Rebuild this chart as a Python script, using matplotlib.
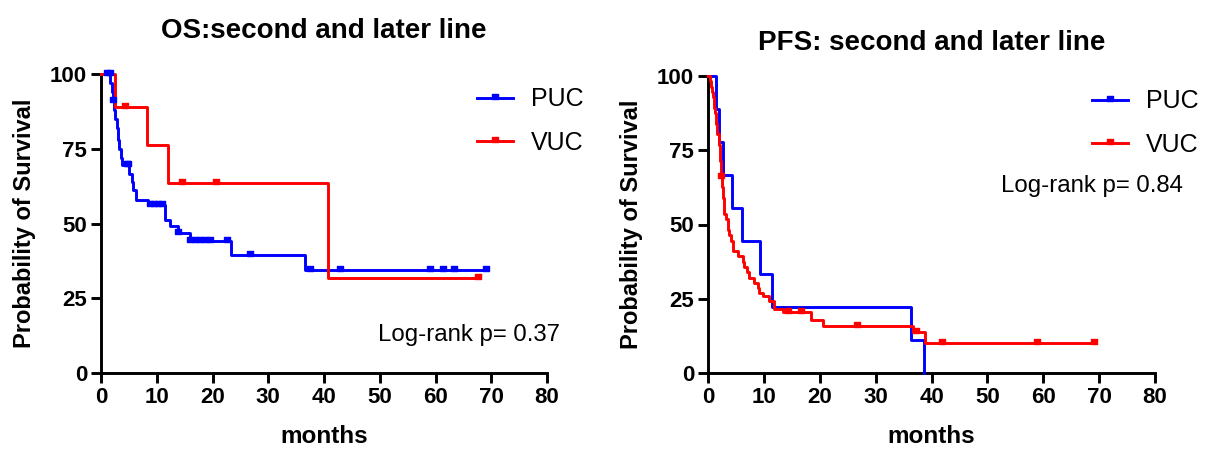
import numpy as np
import matplotlib
matplotlib.use("Agg")
import matplotlib.pyplot as plt
from matplotlib.path import Path
from matplotlib.lines import Line2D

plt.rcParams['font.family'] = ['Liberation Sans', 'DejaVu Sans']

# ---------------- data ----------------
# OS: second and later line
os_puc_t = [0, 1.7, 1.9, 2.1, 2.3, 2.6, 2.8, 3.0, 3.2, 3.5, 3.7, 5.0, 5.5, 5.8, 6.2, 8.4, 11.5, 12.4, 13.9, 15.9, 23.4, 36.6]
os_puc_s = [100, 97, 94, 91, 88, 85, 82, 78, 75, 72, 69.6, 66.5, 64, 61.3, 57.9, 56.3, 51.2, 49.0, 46.8, 44.0, 39.5, 34.6]
os_puc_end = 69.1
os_puc_cens = [1.0, 1.6, 2.2, 4.6, 4.9, 8.8, 9.5, 10.2, 10.9, 13.9, 15.9, 16.9, 17.8, 18.7, 19.6, 22.6, 26.7, 37.5, 42.8, 59.0, 61.3, 63.4, 69.1]

os_vuc_t = [0, 2.6, 8.2, 12.1, 40.7]
os_vuc_s = [100, 88.9, 76.2, 63.5, 31.8]
os_vuc_end = 67.6
os_vuc_cens = [4.3, 14.5, 20.6, 67.6]

# PFS: second and later line
pfs_puc_t = [0, 1.4, 2.0, 2.6, 4.3, 6.0, 9.3, 11.4, 36.3, 38.7]
pfs_puc_s = [100, 88.9, 77.8, 66.7, 55.6, 44.4, 33.3, 22.2, 11.1, 0]
pfs_puc_end = 38.7
pfs_puc_cens = []

pfs_vuc_t = [0, 0.3, 0.5, 0.7, 0.9, 1.1, 1.3, 1.5, 1.7, 1.9, 2.1, 2.3, 2.5, 2.7, 2.9, 3.2, 3.5,
             3.8, 4.1, 4.4, 5.3, 6.2, 6.5, 6.9, 7.4, 8.3, 8.9, 9.2, 9.8, 11.0, 11.9, 13.5,
             18.5, 20.6, 36.6, 38.8]
pfs_vuc_s = [100, 98.2, 96.4, 94.6, 92.9, 89.3, 87.5, 83.9, 80.4, 76.8, 71.4, 66.1, 62.5, 58.9,
             53.6, 51.8, 48.2, 46.4, 44.6, 41.1, 39.3, 37.5, 35.7, 33.9, 32.1, 30.4, 28.6, 26.8,
             25.9, 24.1, 21.4, 20.5, 17.7, 15.9, 13.8, 10.2]
pfs_vuc_end = 69.0
pfs_vuc_cens = [2.3, 14.3, 16.7, 26.6, 37.3, 41.8, 58.9, 69.0]

groups = ["PUC", "VUC"]
colors = {"PUC": "#0000FF", "VUC": "#FF0000"}
titles = ["OS:second and later line", "PFS: second and later line"]
pvals = ["Log-rank p= 0.37", "Log-rank p= 0.84"]
xticks = [0, 10, 20, 30, 40, 50, 60, 70, 80]
yticks = [0, 25, 50, 75, 100]

# censor marker: small box sitting on the line
cens_marker = Path([(-1, -0.4), (1, -0.4), (1, 1.4), (-1, 1.4), (-1, -0.4)],
                   [Path.MOVETO, Path.LINETO, Path.LINETO, Path.LINETO, Path.CLOSEPOLY])

LW = 2.1


def km_draw(ax, t, s, end, cens, color):
    tt = list(t) + [end]
    ss = list(s) + [s[-1]]
    ax.step(tt, ss, where='post', color=color, lw=LW, clip_on=False, zorder=3)
    if cens:
        idx = np.searchsorted(np.array(t), np.array(cens), side='right') - 1
        cy = np.array(s)[idx]
        ax.plot(cens, cy, linestyle='none', marker=cens_marker, markersize=6,
                color=color, clip_on=False, zorder=4)


fig = plt.figure(figsize=(12.05, 4.53), dpi=100)
ax1 = fig.add_axes([101 / 1205, 80 / 453, 446 / 1205, 299 / 453])
ax2 = fig.add_axes([708 / 1205, 80 / 453, 447 / 1205, 297 / 453])

data = [
    [(os_puc_t, os_puc_s, os_puc_end, os_puc_cens), (os_vuc_t, os_vuc_s, os_vuc_end, os_vuc_cens)],
    [(pfs_puc_t, pfs_puc_s, pfs_puc_end, pfs_puc_cens), (pfs_vuc_t, pfs_vuc_s, pfs_vuc_end, pfs_vuc_cens)],
]
leg_x = [0.843, 0.859]
title_pad = [26, 19]

for k, ax in enumerate([ax1, ax2]):
    for g, d in zip(groups, data[k]):
        km_draw(ax, *d, colors[g])
    ax.set_xlim(0, 80)
    ax.set_ylim(0, 100)
    ax.set_xticks(xticks)
    ax.set_yticks(yticks)
    for sp in ['top', 'right']:
        ax.spines[sp].set_visible(False)
    for sp in ['left', 'bottom']:
        ax.spines[sp].set_linewidth(2.1)
    ax.tick_params(direction='out', length=7, width=2.1, labelsize=16, pad=3)
    for lab in ax.get_xticklabels() + ax.get_yticklabels():
        lab.set_fontweight('bold')
    ax.set_xlabel("months", fontsize=17.5, fontweight='bold', labelpad=12)
    ax.set_ylabel("Probability of Survival", fontsize=17, fontweight='bold', labelpad=10)
    ax.set_title(titles[k], fontsize=20, fontweight='bold', pad=title_pad[k])
    handles = [Line2D([0], [0], color=colors[g], lw=LW, marker=cens_marker, markersize=6)
               for g in groups]
    ax.legend(handles, groups, loc='upper left', bbox_to_anchor=(leg_x[k], 0.955),
              frameon=False, fontsize=18, handlelength=1.45, numpoints=1,
              labelspacing=0.78, handletextpad=0.7, borderpad=0, borderaxespad=0)

ax1.text(1.029, 0.127, pvals[0], transform=ax1.transAxes, ha='right', va='center', fontsize=17.3)
ax2.text(1.063, 0.63, pvals[1], transform=ax2.transAxes, ha='right', va='center', fontsize=17.3)

fig.savefig("out.png", dpi=100)
